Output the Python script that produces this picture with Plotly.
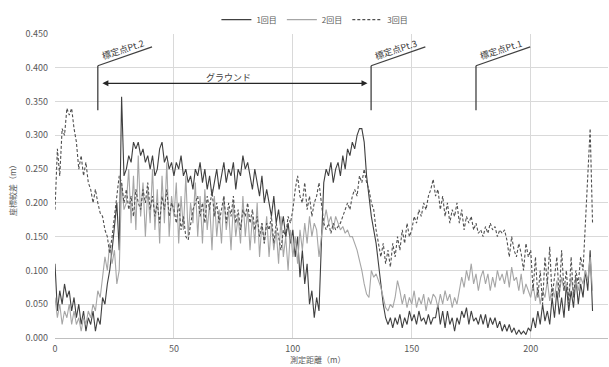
import plotly.graph_objects as go

# distance along the measurement line (m), one sample per metre
distance = list(range(0, 227))

# 1回目 (solid, dark)
run1 = [
    0.11, 0.04, 0.07, 0.05, 0.08, 0.06, 0.07, 0.04, 0.06, 0.03,
    0.05, 0.02, 0.04, 0.01, 0.03, 0.02, 0.04, 0.01, 0.03, 0.02,
    0.06, 0.05, 0.08, 0.10, 0.13, 0.17, 0.20, 0.13, 0.357, 0.24,
    0.25, 0.27, 0.26, 0.29, 0.28, 0.29, 0.27, 0.28, 0.26, 0.27,
    0.25, 0.27, 0.24, 0.25, 0.28, 0.29, 0.26, 0.27, 0.25, 0.26,
    0.24, 0.26, 0.25, 0.27, 0.24, 0.25, 0.23, 0.24, 0.22, 0.25,
    0.24, 0.26, 0.23, 0.25, 0.22, 0.24, 0.21, 0.23, 0.25, 0.22,
    0.24, 0.26, 0.23, 0.25, 0.24, 0.26, 0.22, 0.25, 0.24, 0.27,
    0.25, 0.26, 0.24, 0.22, 0.25, 0.23, 0.21, 0.24, 0.20, 0.22,
    0.20, 0.18, 0.21, 0.17, 0.19, 0.16, 0.18, 0.15, 0.17, 0.14,
    0.16, 0.12, 0.15, 0.09, 0.13, 0.08, 0.11, 0.05, 0.07, 0.03,
    0.06, 0.04, 0.14, 0.23, 0.25, 0.24, 0.26, 0.23, 0.25, 0.26,
    0.24, 0.27, 0.25, 0.28, 0.27, 0.29, 0.28, 0.30, 0.31, 0.31,
    0.29, 0.24, 0.21, 0.18, 0.16, 0.14, 0.11, 0.08, 0.05, 0.03,
    0.02, 0.03, 0.015, 0.03, 0.02, 0.035, 0.015, 0.03, 0.02, 0.04,
    0.025, 0.035, 0.02, 0.04, 0.025, 0.03, 0.02, 0.035, 0.02, 0.03,
    0.03, 0.05, 0.02, 0.04, 0.015, 0.04, 0.02, 0.03, 0.01, 0.03,
    0.02, 0.04, 0.03, 0.045, 0.02, 0.04, 0.025, 0.03, 0.02, 0.035,
    0.02, 0.035, 0.015, 0.03, 0.02, 0.03, 0.015, 0.025, 0.01, 0.02,
    0.01, 0.02, 0.008, 0.015, 0.005, 0.012, 0.006, 0.01, 0.005, 0.015,
    0.01, 0.03, 0.015, 0.04, 0.02, 0.05, 0.025, 0.04, 0.02, 0.06,
    0.03, 0.07, 0.035, 0.06, 0.03, 0.08, 0.04, 0.07, 0.045, 0.09,
    0.05, 0.08, 0.06, 0.10, 0.07, 0.13, 0.04,
]

# 2回目 (solid, light grey)
run2 = [
    0.06, 0.03, 0.05, 0.02, 0.04, 0.03, 0.05, 0.02, 0.04, 0.02,
    0.03, 0.01, 0.03, 0.02, 0.04, 0.03, 0.05, 0.04, 0.07, 0.06,
    0.09, 0.12, 0.10, 0.14, 0.11, 0.13, 0.08, 0.10, 0.23, 0.19,
    0.20, 0.25, 0.17, 0.24, 0.16, 0.27, 0.18, 0.23, 0.15, 0.22,
    0.17, 0.25, 0.16, 0.22, 0.14, 0.24, 0.17, 0.26, 0.15, 0.21,
    0.18, 0.23, 0.14, 0.21, 0.16, 0.24, 0.15, 0.20, 0.17, 0.23,
    0.15, 0.21, 0.14, 0.22, 0.16, 0.20, 0.13, 0.21, 0.15, 0.19,
    0.14, 0.21, 0.16, 0.19, 0.13, 0.20, 0.15, 0.18, 0.14, 0.21,
    0.15, 0.19, 0.13, 0.18, 0.14, 0.20, 0.12, 0.17, 0.14, 0.18,
    0.12, 0.17, 0.13, 0.16, 0.11, 0.18, 0.12, 0.15, 0.10, 0.16,
    0.12, 0.15, 0.11, 0.16, 0.13, 0.17, 0.14, 0.18, 0.15, 0.17,
    0.16, 0.12, 0.15, 0.17, 0.19, 0.17, 0.18, 0.16, 0.18, 0.17,
    0.16, 0.165, 0.155, 0.16, 0.15, 0.15, 0.14, 0.13, 0.115, 0.10,
    0.08, 0.065, 0.06, 0.10, 0.09, 0.095, 0.085, 0.075, 0.06, 0.045,
    0.04, 0.05, 0.045, 0.06, 0.085, 0.07, 0.05, 0.065, 0.045, 0.06,
    0.05, 0.07, 0.045, 0.06, 0.05, 0.065, 0.04, 0.06, 0.05, 0.065,
    0.06, 0.045, 0.065, 0.05, 0.07, 0.055, 0.065, 0.045, 0.06, 0.05,
    0.07, 0.09, 0.075, 0.10, 0.085, 0.11, 0.08, 0.095, 0.07, 0.09,
    0.10, 0.08, 0.095, 0.07, 0.09, 0.075, 0.10, 0.085, 0.095, 0.08,
    0.10, 0.075, 0.105, 0.085, 0.09, 0.07, 0.095, 0.065, 0.08, 0.07,
    0.06, 0.08, 0.055, 0.075, 0.05, 0.07, 0.06, 0.085, 0.055, 0.075,
    0.06, 0.085, 0.065, 0.09, 0.07, 0.08, 0.06, 0.09, 0.065, 0.085,
    0.07, 0.09, 0.08, 0.10, 0.085, 0.12, 0.07,
]

# 3回目 (dashed, dark)
run3 = [
    0.19, 0.28, 0.24, 0.31, 0.30, 0.34, 0.33, 0.34, 0.31, 0.29,
    0.25, 0.27, 0.24, 0.26, 0.23, 0.22, 0.20, 0.22, 0.20, 0.185,
    0.18, 0.16, 0.15, 0.125, 0.15, 0.18, 0.21, 0.24, 0.23, 0.20,
    0.22, 0.19, 0.21, 0.18, 0.22, 0.20, 0.19, 0.22, 0.20, 0.23,
    0.19, 0.21, 0.18, 0.20, 0.17, 0.21, 0.19, 0.22, 0.18, 0.20,
    0.19, 0.17, 0.20, 0.16, 0.18, 0.15, 0.145, 0.17, 0.19, 0.20,
    0.21, 0.18, 0.20, 0.17, 0.21, 0.19, 0.22, 0.18, 0.20, 0.17,
    0.19, 0.21, 0.17, 0.20, 0.18, 0.21, 0.17, 0.19, 0.16, 0.19,
    0.18, 0.20, 0.17, 0.19, 0.16, 0.18, 0.15, 0.17, 0.14, 0.17,
    0.16, 0.18, 0.14, 0.17, 0.15, 0.13, 0.16, 0.15, 0.18, 0.17,
    0.19, 0.22, 0.24, 0.21, 0.20, 0.23, 0.19, 0.21, 0.18, 0.20,
    0.21, 0.23, 0.20, 0.17, 0.16, 0.17, 0.155, 0.17, 0.16, 0.165,
    0.17, 0.18, 0.19, 0.20, 0.19, 0.21, 0.22, 0.21, 0.24, 0.23,
    0.25, 0.23, 0.22, 0.20, 0.19, 0.16, 0.14, 0.12, 0.14, 0.11,
    0.13, 0.105, 0.14, 0.12, 0.15, 0.13, 0.16, 0.14, 0.17, 0.15,
    0.16, 0.18, 0.17, 0.19, 0.18, 0.20, 0.19, 0.21, 0.22, 0.235,
    0.21, 0.22, 0.19, 0.21, 0.18, 0.20, 0.17, 0.19, 0.18, 0.20,
    0.17, 0.19, 0.16, 0.18, 0.17, 0.18, 0.16, 0.17, 0.155, 0.16,
    0.15, 0.165, 0.155, 0.17, 0.16, 0.165, 0.15, 0.16, 0.155, 0.16,
    0.145, 0.12, 0.15, 0.13, 0.12, 0.14, 0.125, 0.10, 0.14, 0.12,
    0.13, 0.07, 0.12, 0.06, 0.10, 0.05, 0.12, 0.08, 0.135, 0.06,
    0.09, 0.12, 0.06, 0.13, 0.07, 0.10, 0.05, 0.12, 0.06, 0.10,
    0.08, 0.12, 0.10, 0.18, 0.24, 0.31, 0.17,
]

series_names = ["1回目", "2回目", "3回目"]
x_ticks = [0, 50, 100, 150, 200]
y_ticks = [0, 0.05, 0.10, 0.15, 0.20, 0.25, 0.30, 0.35, 0.40, 0.45]

# calibration points (m) and labels
pt_names = ["標定点Pt.2", "標定点Pt.3", "標定点Pt.1"]
pt_pos = [18.0, 132.9, 177.0]
ground_label = "グラウンド"

FONT = "Noto Sans CJK JP, Noto Sans, sans-serif"
TXT = "#595959"

fig = go.Figure()
fig.add_trace(go.Scatter(x=distance, y=run1, mode="lines", name=series_names[0],
                         line=dict(color="#404040", width=1.1)))
fig.add_trace(go.Scatter(x=distance, y=run2, mode="lines", name=series_names[1],
                         line=dict(color="#a6a6a6", width=1.1)))
fig.add_trace(go.Scatter(x=distance, y=run3, mode="lines", name=series_names[2],
                         line=dict(color="#505050", width=1.1, dash="3px,2px")))

shapes = []
annotations = []
for name, xp in zip(pt_names, pt_pos):
    shapes.append(dict(type="line", xref="x", yref="y", x0=xp, x1=xp, y0=0.337, y1=0.403,
                       line=dict(color="#404040", width=1.3)))
    shapes.append(dict(type="line", xref="x", yref="y", x0=xp, x1=xp + 22.8, y0=0.403, y1=0.431,
                       line=dict(color="#404040", width=1.3)))
    annotations.append(dict(xref="x", yref="y", x=xp + 10.5, y=0.427, text=name, showarrow=False,
                            textangle=-18, font=dict(family=FONT, size=9, color="#404040")))

# ground double arrow
annotations.append(dict(xref="x", yref="y", axref="x", ayref="y", x=131.4, y=0.377, ax=19.3, ay=0.377,
                        text="", showarrow=True, arrowhead=2, startarrowhead=2, arrowside="end+start",
                        arrowsize=1, arrowwidth=1.2, arrowcolor="#262626"))
annotations.append(dict(xref="x", yref="y", x=72.9, y=0.386, text=ground_label, showarrow=False,
                        font=dict(family=FONT, size=9, color="#404040")))

# axis titles
annotations.append(dict(xref="paper", yref="paper", x=0, y=0.49, xanchor="center", yanchor="middle",
                        xshift=-43, text="座標較差（m）", textangle=-90, showarrow=False,
                        font=dict(family=FONT, size=8, color=TXT)))
annotations.append(dict(xref="paper", yref="paper", x=0.475, y=0, xanchor="center", yanchor="middle",
                        yshift=-21, text="測定距離（m）", showarrow=False,
                        font=dict(family=FONT, size=8, color=TXT)))

fig.update_layout(
    width=609, height=367,
    margin=dict(l=55, r=1, t=34, b=29),
    paper_bgcolor="white", plot_bgcolor="white",
    font=dict(family=FONT, size=9, color=TXT),
    showlegend=True,
    legend=dict(orientation="h", x=0.47, xanchor="center", y=1.095, yanchor="top",
                font=dict(family=FONT, size=8, color=TXT), itemwidth=30,
                bgcolor="rgba(0,0,0,0)"),
    shapes=shapes,
    annotations=annotations,
)
fig.update_xaxes(range=[0, 232.5], tickvals=x_ticks, showgrid=True, gridcolor="#d9d9d9", gridwidth=1,
                 zeroline=False, showline=True, linecolor="#bfbfbf", linewidth=1, ticks="",
                 ticklabelstandoff=2,
                 tickfont=dict(family=FONT, size=9, color=TXT), automargin=False)
fig.update_yaxes(range=[0, 0.45], tickvals=y_ticks, tickformat=".3f", showgrid=True, gridcolor="#d9d9d9",
                 gridwidth=1, zeroline=False, showline=False, ticks="", ticklabelstandoff=6,
                 tickfont=dict(family=FONT, size=9, color=TXT), automargin=False)

fig.write_html("out.html")
